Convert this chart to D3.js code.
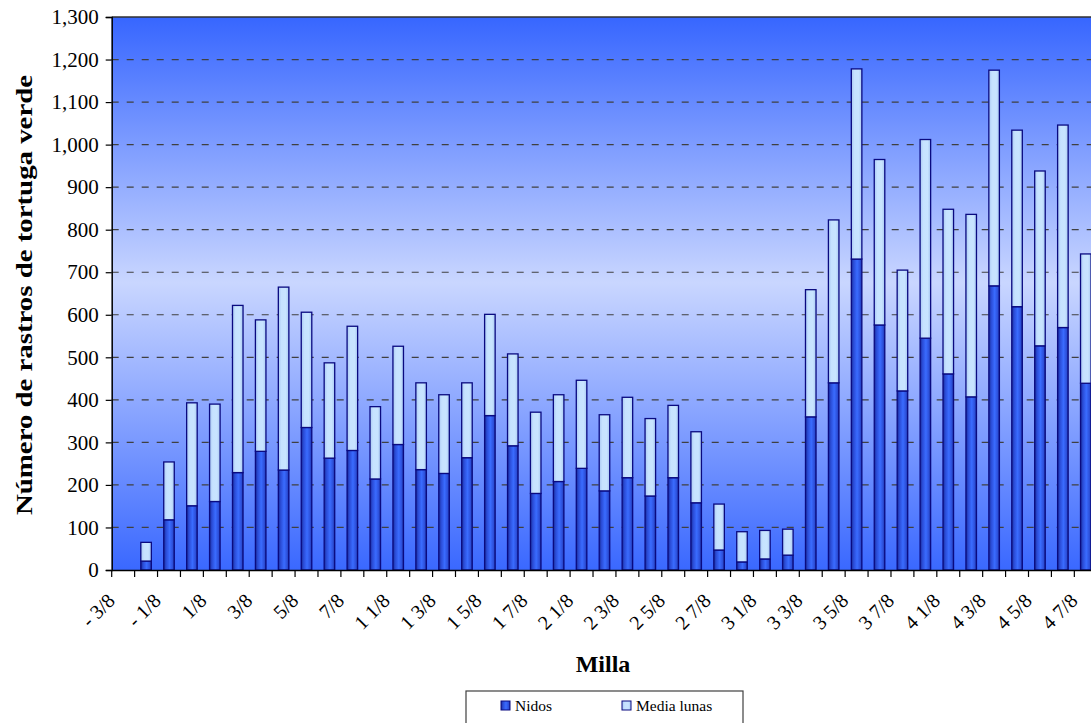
<!DOCTYPE html>
<html>
<head>
<meta charset="utf-8">
<script src="https://cdn.jsdelivr.net/npm/d3@7/dist/d3.min.js"></script>
<style>
  html, body { margin: 0; padding: 0; background: #ffffff; }
  svg { display: block; font-family: "Liberation Serif", "Times New Roman", serif; }
</style>
</head>
<body>
<svg id="chart" width="1091" height="723" font-family="'Liberation Serif', 'Times New Roman', serif"></svg>
<script>
// Miles along the beach, every 1/8 mile
const millas = ["- 3/8","- 1/4","- 1/8","0","1/8","1/4","3/8","1/2","5/8","3/4","7/8","1",
  "1 1/8","1 1/4","1 3/8","1 1/2","1 5/8","1 3/4","1 7/8","2",
  "2 1/8","2 1/4","2 3/8","2 1/2","2 5/8","2 3/4","2 7/8","3",
  "3 1/8","3 1/4","3 3/8","3 1/2","3 5/8","3 3/4","3 7/8","4",
  "4 1/8","4 1/4","4 3/8","4 1/2","4 5/8","4 3/4","4 7/8"];

// Labels written under the axis
const tickLabels = ["- 3/8","- 1/8","1/8","3/8","5/8","7/8","1 1/8","1 3/8","1 5/8","1 7/8",
  "2 1/8","2 3/8","2 5/8","2 7/8","3 1/8","3 3/8","3 5/8","3 7/8","4 1/8","4 3/8","4 5/8","4 7/8"];

// Green turtle crawls per segment
const nidos = [0,21,118,151,161,229,279,235,335,263,281,214,295,236,227,264,363,292,180,208,
  239,186,217,174,217,158,47,19,26,35,360,440,731,576,421,545,461,407,668,619,527,570,439];
const mediaLunas = [0,44,136,242,229,393,309,430,271,224,292,170,231,204,185,176,238,216,191,204,
  207,179,189,182,170,167,108,71,67,61,299,383,447,389,284,467,387,429,507,415,411,476,304];

const yTicks = [0,100,200,300,400,500,600,700,800,900,1000,1100,1200,1300];

const seriesNames = ["Nidos", "Media lunas"];

const serif = "'Liberation Serif', 'Times New Roman', serif";
const svg = d3.select("#chart");
const plotLeft = 111.7, plotTop = 17, plotBottom = 570;
const step = 22.92;
const plotRight = plotLeft + millas.length * step;

const rows = millas.map((m, i) => ({ milla: m, "Nidos": nidos[i], "Media lunas": mediaLunas[i] }));
const stacked = d3.stack().keys(seriesNames)(rows);

const x = d3.scaleBand().domain(millas).range([plotLeft, plotRight]).paddingInner(0.54).paddingOuter(0.27);
const y = d3.scaleLinear().domain([0, 1300]).range([plotBottom, plotTop]);

const defs = svg.append("defs");
const bg = defs.append("linearGradient").attr("id", "bg").attr("x1", 0).attr("y1", 0).attr("x2", 0).attr("y2", 1);
bg.append("stop").attr("offset", "0%").attr("stop-color", "#3766ff");
bg.append("stop").attr("offset", "48%").attr("stop-color", "#c9d6ff");
bg.append("stop").attr("offset", "100%").attr("stop-color", "#3a68ff");

const gN = defs.append("linearGradient").attr("id", "gNidos").attr("x1", 0).attr("y1", 0).attr("x2", 1).attr("y2", 0);
[["0%", "#1a2c96"], ["22%", "#2a4bd6"], ["55%", "#3a6cff"], ["85%", "#2c4ed8"], ["100%", "#1a2c96"]]
  .forEach(s => gN.append("stop").attr("offset", s[0]).attr("stop-color", s[1]));

const gM = defs.append("linearGradient").attr("id", "gMedia").attr("x1", 0).attr("y1", 0).attr("x2", 1).attr("y2", 0);
[["0%", "#a9c8f2"], ["30%", "#c6e2ff"], ["70%", "#c8e4ff"], ["100%", "#a9c8f2"]]
  .forEach(s => gM.append("stop").attr("offset", s[0]).attr("stop-color", s[1]));

const fills = { "Nidos": "url(#gNidos)", "Media lunas": "url(#gMedia)" };

// Plot background
svg.append("rect").attr("x", plotLeft).attr("y", plotTop).attr("width", plotRight - plotLeft).attr("height", plotBottom - plotTop)
  .attr("fill", "url(#bg)");

// Dashed gridlines
svg.append("g").selectAll("line").data(yTicks.filter(t => t > 0 && t < 1300)).join("line")
  .attr("x1", plotLeft).attr("x2", plotRight).attr("y1", d => y(d)).attr("y2", d => y(d))
  .attr("stroke", "#404040").attr("stroke-width", 1.2).attr("stroke-dasharray", "7,8");

// Top border of plot
svg.append("line").attr("x1", plotLeft).attr("x2", plotRight).attr("y1", y(1300)).attr("y2", y(1300))
  .attr("stroke", "#303030").attr("stroke-width", 1.5);

// Stacked bars
svg.append("g").selectAll("g").data(stacked).join("g")
  .attr("fill", d => fills[d.key])
  .selectAll("rect").data(d => d.filter(p => p[1] - p[0] > 0)).join("rect")
  .attr("x", d => x(d.data.milla))
  .attr("width", x.bandwidth())
  .attr("y", d => y(d[1]))
  .attr("height", d => y(d[0]) - y(d[1]))
  .attr("stroke", "#0a0a80").attr("stroke-width", 1.3);

// Y axis
const yAxis = svg.append("g").attr("transform", `translate(${plotLeft},0)`)
  .call(d3.axisLeft(y).tickValues(yTicks).tickFormat(d3.format(",")).tickSize(6).tickPadding(7));
yAxis.attr("font-family", serif);
yAxis.select(".domain").attr("stroke", "#000").attr("stroke-width", 1.5);
yAxis.selectAll(".tick line").attr("stroke", "#000").attr("stroke-width", 1.2);
yAxis.selectAll("text").attr("font-size", 21).attr("fill", "#000").attr("font-family", serif);

// X axis line and labels
const xAxis = svg.append("g").attr("transform", `translate(0,${plotBottom})`)
  .call(d3.axisBottom(x).tickValues(tickLabels).tickSize(0).tickPadding(0));
xAxis.attr("font-family", serif);
xAxis.select(".domain").attr("stroke", "#000").attr("stroke-width", 1.5);
xAxis.selectAll(".tick text")
  .attr("font-size", 20).attr("fill", "#000")
  .attr("font-family", serif)
  .attr("text-anchor", "end")
  .attr("dy", 0)
  .attr("transform", "translate(-7,32) rotate(-45)");

// Tick marks at category boundaries
svg.append("g").selectAll("line").data(millas).join("line")
  .attr("x1", d => x(d) - x.step() * x.paddingInner() / 2)
  .attr("x2", d => x(d) - x.step() * x.paddingInner() / 2)
  .attr("y1", plotBottom).attr("y2", plotBottom + 7)
  .attr("stroke", "#000").attr("stroke-width", 1.2);

// Axis titles
svg.append("text").attr("x", 603).attr("y", 672).attr("text-anchor", "middle")
  .attr("font-family", serif)
  .attr("font-size", 24).attr("font-weight", "bold").text("Milla");

svg.append("text").attr("transform", "translate(32,295) rotate(-90)").attr("text-anchor", "middle")
  .attr("font-family", serif)
  .attr("font-size", 24).attr("font-weight", "bold")
  .attr("textLength", 440).attr("lengthAdjust", "spacingAndGlyphs")
  .text("Número de rastros de tortuga verde");

// Legend
const lg = svg.append("g").attr("font-family", serif);
lg.append("rect").attr("x", 466).attr("y", 691).attr("width", 277).attr("height", 45)
  .attr("fill", "#fff").attr("stroke", "#404040").attr("stroke-width", 1.2);
const items = [{ key: "Nidos", x: 501 }, { key: "Media lunas", x: 622 }];
items.forEach(it => {
  lg.append("rect").attr("x", it.x).attr("y", 701).attr("width", 9).attr("height", 9)
    .attr("fill", fills[it.key]).attr("stroke", "#0a0a80").attr("stroke-width", 1);
  lg.append("text").attr("x", it.x + 14).attr("y", 711).attr("font-size", 15.5).text(it.key);
});
</script>
</body>
</html>
